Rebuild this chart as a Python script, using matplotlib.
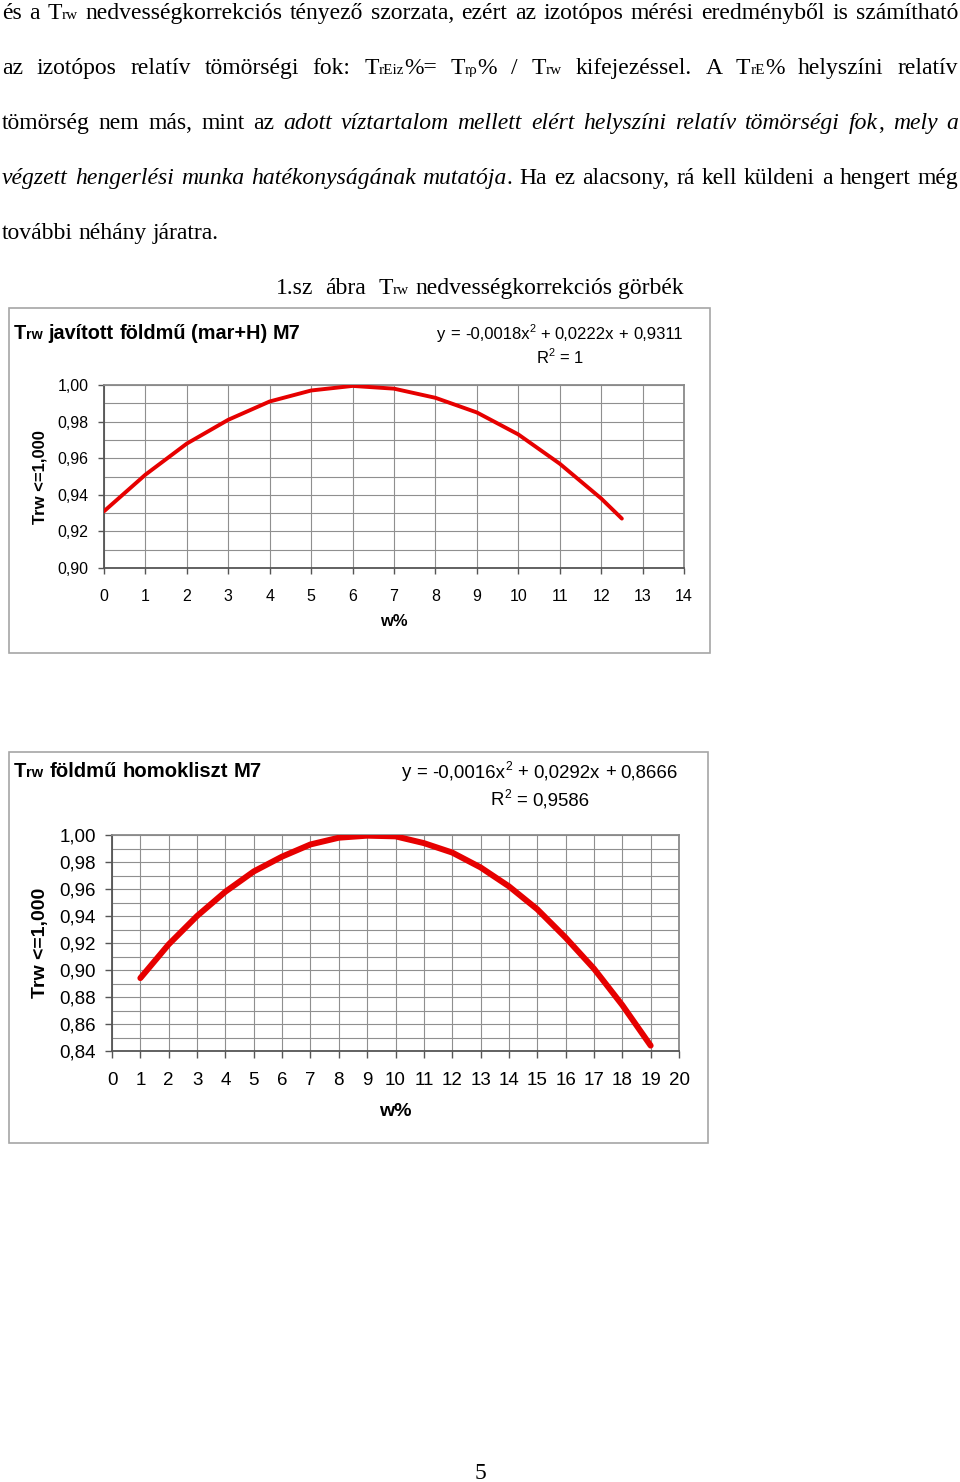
import matplotlib
matplotlib.use("Agg")
import matplotlib.pyplot as plt
from matplotlib.transforms import IdentityTransform
from matplotlib.patches import Rectangle
from matplotlib.ticker import MultipleLocator

W, H = 960, 1482
SERIF = "Liberation Serif"
SANS = "Liberation Sans"

# chart 1: Trw javított földmű (mar+H) M7
w1 = [0, 1, 2, 3, 4, 5, 6, 7, 8, 9, 10, 11, 12, 12.5]
trw1 = [0.931, 0.951, 0.968, 0.981, 0.991, 0.997, 0.9995, 0.998, 0.993,
        0.985, 0.973, 0.957, 0.938, 0.927]
x1_ticks = list(range(15))
y1_ticks = [0.90, 0.92, 0.94, 0.96, 0.98, 1.00]
y1_labels = ["0,90", "0,92", "0,94", "0,96", "0,98", "1,00"]
eq1 = ["-0,0018", "0,0222", "0,9311"]
r2_1 = "1"

# chart 2: Trw földmű homokliszt M7
w2 = list(range(1, 20))
trw2 = [0.894, 0.919, 0.940, 0.958, 0.973, 0.984, 0.993, 0.998, 0.9995,
        0.999, 0.994, 0.987, 0.976, 0.962, 0.945, 0.924, 0.901, 0.874, 0.844]
x2_ticks = list(range(21))
y2_ticks = [0.84, 0.86, 0.88, 0.90, 0.92, 0.94, 0.96, 0.98, 1.00]
y2_labels = ["0,84", "0,86", "0,88", "0,90", "0,92", "0,94", "0,96", "0,98", "1,00"]
eq2 = ["-0,0016", "0,0292", "0,8666"]
r2_2 = "0,9586"

plt.rcParams["font.family"] = [SANS, "DejaVu Sans"]

fig = plt.figure(figsize=(W / 100, H / 100), dpi=100)
rend = fig.canvas.get_renderer()
ident = IdentityTransform()
_cache = {}


def ink_w(s, size, family, weight="normal", style="normal"):
    key = (s, size, family, weight, style)
    if key not in _cache:
        t = fig.text(0, 0, s, fontsize=size, family=family, weight=weight, style=style)
        _cache[key] = t.get_window_extent(rend).width
        t.remove()
    return _cache[key]


def adv_w(s, size, family, weight="normal", style="normal"):
    # advance width: ink of |s| minus ink of ||
    return (ink_w("|" + s + "|", size, family, weight, style)
            - ink_w("||", size, family, weight, style))


def run(s, size, family=SERIF, weight="normal", style="normal", dy=0):
    return dict(s=s, size=size, family=family, weight=weight, style=style, dy=dy)


def run_w(r):
    return adv_w(r["s"], r["size"], r["family"], r["weight"], r["style"])


def place(words, base_y, x0=0, x1=None, justify=False, center=None, mult=None):
    ws = [sum(run_w(r) for r in wd) for wd in words]
    r0 = words[0][0]
    sp = adv_w(" ", r0["size"], r0["family"], r0["weight"])
    mult = mult or [1] * (len(words) - 1)
    if justify:
        gap = (x1 - x0 - sum(ws)) / sum(mult)
    else:
        gap = sp
    total = sum(ws) + gap * sum(mult)
    x = x0 if center is None else center - total / 2
    for i, wd in enumerate(words):
        xx = x
        for r in wd:
            fig.text(xx, H - base_y + r["dy"], r["s"], transform=ident,
                     fontsize=r["size"], family=r["family"], weight=r["weight"],
                     style=r["style"], ha="left", va="baseline")
            xx += run_w(r)
        if i < len(words) - 1:
            x += ws[i] + gap * mult[i]


# ---- body text
FS, SUB = 17, 11


def plain(txt, style="normal"):
    return [[run(t, FS, style=style)] for t in txt.split()]


def T(sub, tail=""):
    wd = [run("T", FS), run(sub, SUB)]
    if tail:
        wd.append(run(tail, FS))
    return [wd]


line1 = plain("és a") + T("rw") + plain(
    "nedvességkorrekciós tényező szorzata, ezért az izotópos mérési eredményből is számítható")
line2 = (plain("az izotópos relatív tömörségi fok:") + T("rEiz", "%=") + T("rρ", "%")
         + plain("/") + T("rw") + plain("kifejezéssel. A") + T("rE", "%")
         + plain("helyszíni relatív"))
line3 = (plain("tömörség nem más, mint az")
         + plain("adott víztartalom mellett elért helyszíni relatív tömörségi", "italic")
         + [[run("fok", FS, style="italic"), run(",", FS)]]
         + plain("mely a", "italic"))
line4 = (plain("végzett hengerlési munka hatékonyságának", "italic")
         + [[run("mutatója", FS, style="italic"), run(".", FS)]]
         + plain("Ha ez alacsony, rá kell küldeni a hengert még"))
line5 = plain("további néhány járatra.")

place(line1, 19, 2, 958, justify=True)
place(line2, 74, 2, 958, justify=True)
place(line3, 129, 2, 958, justify=True)
place(line4, 184, 2, 958, justify=True)
place(line5, 239, 2)

caption = plain("1.sz ábra") + T("rw") + plain("nedvességkorrekciós görbék")
place(caption, 294, 276, 684, justify=True, mult=[2, 2, 1, 1])

fig.text(480, H - 1479, "5", transform=ident, fontsize=FS, family=SERIF,
         ha="center", va="baseline")


# ---- charts
def chart(frame, box, x, y, xticks, yticks, ylabels, ylim, fs, lw,
          title, tsz, eq, esz, r2, tbase, ebase, rbase, ecenter, ylab_y, xlab_y,
          tick_len, xpad, ypad):
    l, t, r, b = frame
    fig.add_artist(Rectangle((l, H - b), r - l, b - t, transform=ident,
                             fill=False, ec="#a6a6a6", lw=1.2))
    bl, bt, br, bb = box
    ax = fig.add_axes([bl / W, 1 - bb / H, (br - bl) / W, (bb - bt) / H])
    ax.plot(x, y, color="#e60000", lw=lw, solid_capstyle="round", zorder=3)
    ax.set_xlim(xticks[0], xticks[-1])
    ax.set_ylim(*ylim)
    ax.set_xticks(xticks, [str(v) for v in xticks])
    ax.set_yticks(yticks, ylabels)
    ax.yaxis.set_minor_locator(MultipleLocator(0.01))
    ax.grid(which="both", color="#8f8f8f", lw=0.8)
    ax.set_axisbelow(True)
    ax.tick_params(which="minor", length=0)
    ax.tick_params(which="major", length=tick_len, color="#555555", width=1,
                   labelsize=fs, labelcolor="black")
    ax.tick_params(axis="x", pad=xpad)
    ax.tick_params(axis="y", pad=ypad)
    for side in ("left", "bottom"):
        ax.spines[side].set_color("#555555")
        ax.spines[side].set_linewidth(1.3)
    for side in ("top", "right"):
        ax.spines[side].set_color("#8a8a8a")
        ax.spines[side].set_linewidth(1.3)

    place([[run("T", tsz, SANS, "bold"), run("rw", tsz * 0.72, SANS, "bold")]]
          + [[run(s, tsz, SANS, "bold")] for s in title.split()], tbase, l + 5)

    sup = esz * 0.65
    dy = esz * 0.55
    eqw = [[run("y", esz, SANS)], [run("=", esz, SANS)],
           [run(eq[0] + "x", esz, SANS), run("2", sup, SANS, dy=dy)],
           [run("+", esz, SANS)], [run(eq[1] + "x", esz, SANS)],
           [run("+", esz, SANS)], [run(eq[2], esz, SANS)]]
    place(eqw, ebase, center=ecenter)
    rw = [[run("R", esz, SANS), run("2", sup, SANS, dy=dy)],
          [run("=", esz, SANS)], [run(r2, esz, SANS)]]
    place(rw, rbase, center=ecenter)

    fig.text(40, H - ylab_y, "Trw <=1,000", transform=ident, rotation=90,
             fontsize=fs + 0.5, weight="bold", ha="center", va="center")
    fig.text((bl + br) / 2, H - xlab_y, "w%", transform=ident,
             fontsize=fs + 0.5, weight="bold", ha="center", va="center")
    return ax


chart((9, 308, 710, 653), (104, 385, 684, 568), w1, trw1, x1_ticks,
      y1_ticks, y1_labels, (0.90, 1.00), 11.5, 2.8,
      "javított földmű (mar+H) M7", 14.3, eq1, 12.0, r2_1,
      339, 339, 363, 560, 477, 622, 4, 11, 7)

chart((9, 752, 708, 1143), (112, 835, 679, 1051), w2, trw2, x2_ticks,
      y2_ticks, y2_labels, (0.84, 1.00), 13.5, 4.3,
      "földmű homokliszt M7", 14.6, eq2, 13.4, r2_2,
      777, 777, 805, 540, 943, 1111, 5, 10, 6.5)

fig.savefig("out.png", dpi=100, facecolor="white")
